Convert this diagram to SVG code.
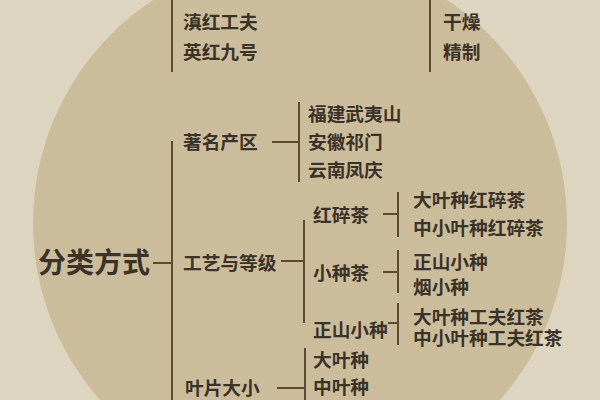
<svg xmlns="http://www.w3.org/2000/svg" width="600" height="400" viewBox="0 0 600 400">
<style>
.t{font-family:"Noto Sans CJK SC","Noto Sans",sans-serif;font-weight:bold;font-size:18.7px;fill:#3b3228}
.big{font-size:28px}
.ln{stroke:#5e4a30;stroke-width:2;fill:none}
</style>
<rect width="600" height="400" fill="#ddd5bf"/>
<circle cx="300" cy="223" r="267" fill="#cbbd9c"/>
<g id="connectors" class="ln">
<line x1="172" y1="0" x2="172" y2="72"/>
<line x1="430" y1="0" x2="430" y2="72"/>
<line x1="153" y1="263" x2="172" y2="263"/>
<line x1="172" y1="141" x2="172" y2="400"/>
<line x1="272" y1="142" x2="299" y2="142"/>
<line x1="299" y1="102" x2="299" y2="182"/>
<line x1="281" y1="261" x2="304" y2="261"/>
<line x1="304" y1="220" x2="304" y2="323"/>
<line x1="383" y1="214" x2="398" y2="214"/>
<line x1="398" y1="192" x2="398" y2="237"/>
<line x1="383" y1="272" x2="398" y2="272"/>
<line x1="398" y1="250" x2="398" y2="293"/>
<line x1="388" y1="323" x2="398" y2="323"/>
<line x1="398" y1="303" x2="398" y2="345"/>
<line x1="277" y1="388" x2="305" y2="388"/>
<line x1="305" y1="348" x2="305" y2="400"/>
</g>
<g id="n-dianhong"><text class="t" x="183" y="29">滇红工夫</text></g>
<g id="n-yinghong"><text class="t" x="183" y="59">英红九号</text></g>
<g id="n-ganzao"><text class="t" x="443" y="29">干燥</text></g>
<g id="n-jingzhi"><text class="t" x="443" y="59">精制</text></g>
<g id="n-root"><text class="t big" x="38" y="273">分类方式</text></g>
<g id="n-chanqu"><text class="t" x="183" y="149">著名产区</text></g>
<g id="n-fujian"><text class="t" x="308" y="121">福建武夷山</text></g>
<g id="n-anhui"><text class="t" x="308" y="149">安徽祁门</text></g>
<g id="n-yunnan"><text class="t" x="308" y="177">云南凤庆</text></g>
<g id="n-gongyi"><text class="t" x="183" y="270">工艺与等级</text></g>
<g id="n-hongsui"><text class="t" x="313" y="222">红碎茶</text></g>
<g id="n-dyhs"><text class="t" x="413" y="207">大叶种红碎茶</text></g>
<g id="n-zxhs"><text class="t" x="413" y="235">中小叶种红碎茶</text></g>
<g id="n-xiaozhong"><text class="t" x="313" y="280">小种茶</text></g>
<g id="n-zsxz1"><text class="t" x="413" y="269">正山小种</text></g>
<g id="n-yanxz"><text class="t" x="413" y="294">烟小种</text></g>
<g id="n-zsxz2"><text class="t" x="313" y="337">正山小种</text></g>
<g id="n-dygf"><text class="t" x="413" y="324">大叶种工夫红茶</text></g>
<g id="n-zxgf"><text class="t" x="413" y="345">中小叶种工夫红茶</text></g>
<g id="n-yepian"><text class="t" x="185" y="395">叶片大小</text></g>
<g id="n-dayezhong"><text class="t" x="313" y="367">大叶种</text></g>
<g id="n-zhongyezhong"><text class="t" x="313" y="394">中叶种</text></g>
</svg>
